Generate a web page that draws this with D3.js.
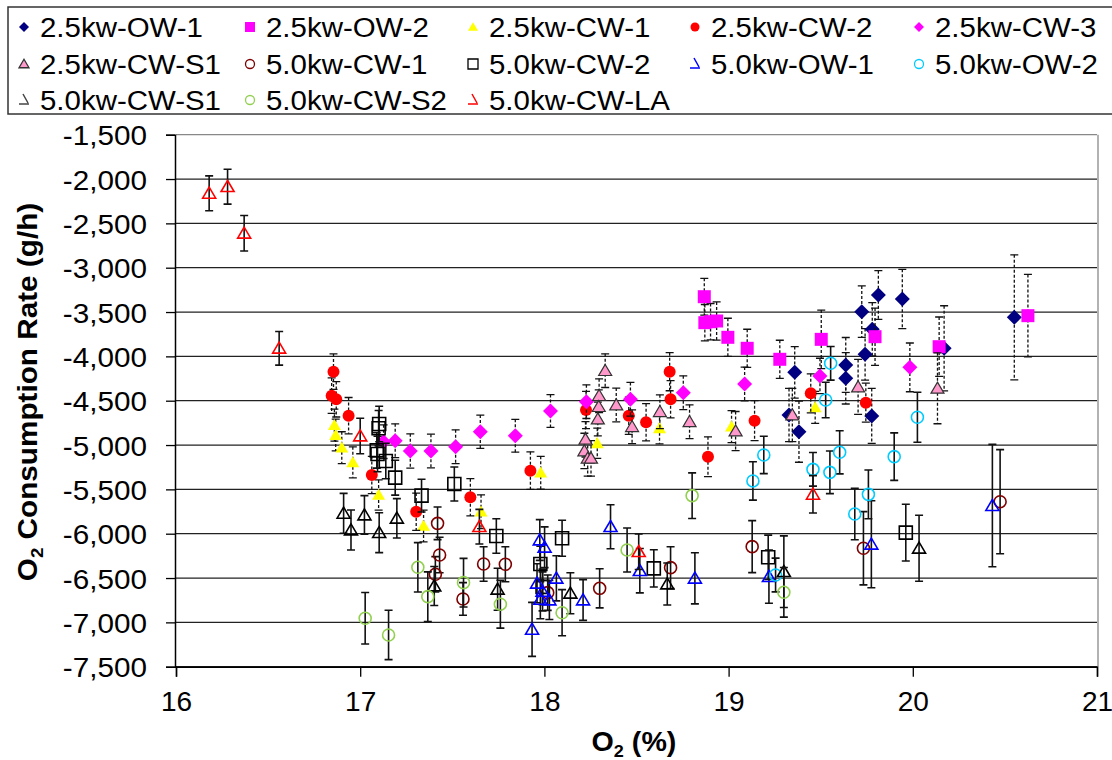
<!DOCTYPE html>
<html>
<head>
<meta charset="utf-8">
<script src="https://cdn.jsdelivr.net/npm/d3@7"></script>
<style>
  body { margin: 0; background: #fff; }
  text { font-family: Arial, "Liberation Sans", sans-serif; fill: #000; }
</style>
</head>
<body>
<div class="chart"></div>
<script>
// O2 consumption rate vs O2 % scatter with error bars

// 2.5kw-OW-1
var x25OW1 = [19.359, 19.636, 19.636, 19.723, 19.741, 19.78, 19.813, 19.943, 20.17, 20.551, 19.382, 19.777, 19.328];
var y25OW1 = [-4180, -4097, -4247, -3496, -3977, -3695, -3308, -3353, -3909, -3560, -4849, -4672, -4661];
var e25OW1 = [290, 310, 290, 290, 290, 300, 275, 335, 480, 705, 345, 310, 300];
// 2.5kw-OW-2
var x25OW2 = [18.868, 18.871, 18.902, 18.935, 18.996, 19.101, 19.278, 19.503, 19.795, 20.143, 20.625];
var y25OW2 = [-3327, -3620, -3609, -3601, -3785, -3909, -4033, -3808, -3778, -3891, -3541];
var e25OW2 = [207, 205, 205, 215, 215, 215, 215, 330, 323, 335, 465];
// 2.5kw-CW-1
var x25CW1 = [16.86, 16.867, 16.90, 16.96, 17.10, 17.344, 17.656, 17.98, 18.287, 18.625, 19.016, 19.47];
var y25CW1 = [-4776, -4887, -5030, -5195, -5563, -5913, -5752, -5312, -4980, -4811, -4793, -4575];
var e25CW1 = [180, 180, 180, 175, 170, 180, 190, 185, 170, 175, 180, 180];
// 2.5kw-CW-2
var x25CW2 = [16.855, 16.845, 16.87, 16.937, 17.063, 17.304, 17.598, 17.924, 18.226, 18.458, 18.552, 18.68, 18.685, 18.888, 19.141, 19.446, 19.745];
var y25CW2 = [-4173, -4443, -4484, -4669, -5338, -5752, -5589, -5289, -4605, -4669, -4744, -4173, -4484, -5132, -4725, -4417, -4522];
var e25CW2 = [200, 200, 200, 205, 210, 210, 210, 212, 210, 210, 210, 215, 210, 225, 225, 220, 220];
// 2.5kw-CW-3
var x25CW3 = [17.127, 17.19, 17.272, 17.384, 17.518, 17.652, 17.842, 18.033, 18.228, 18.467, 18.754, 19.087, 19.496, 19.984];
var y25CW3 = [-4962, -4951, -5067, -5067, -5019, -4850, -4895, -4616, -4511, -4484, -4410, -4311, -4221, -4124];
var e25CW3 = [190, 190, 193, 190, 190, 188, 185, 185, 190, 190, 190, 190, 200, 275];
// 2.5kw-CW-S1
var x25CWS1 = [18.33, 18.297, 18.295, 18.39, 18.29, 18.223, 18.217, 18.235, 18.253, 18.476, 18.627, 18.788, 19.038, 19.346, 19.703, 20.134];
var y25CWS1 = [-4161, -4443, -4567, -4548, -4707, -4935, -5067, -5150, -5150, -4793, -4624, -4737, -4842, -4661, -4345, -4360];
var e25CWS1 = [190, 190, 190, 190, 190, 200, 200, 200, 200, 190, 190, 190, 220, 300, 310, 400];
// 5.0kw-CW-1
var x50CW1 = [17.42, 17.431, 17.408, 17.558, 17.67, 17.788, 18.018, 18.30, 18.685, 19.128, 19.732, 20.474];
var y50CW1 = [-5883, -6240, -6458, -6736, -6342, -6345, -6665, -6616, -6383, -6146, -6164, -5639];
var e50CW1 = [184, 200, 200, 184, 195, 197, 200, 220, 236, 293, 413, 587];
// 5.0kw-CW-2
var x50CW2 = [17.103, 17.10, 17.094, 17.09, 17.139, 17.19, 17.333, 17.511, 17.739, 17.978, 17.99, 18.096, 18.594, 19.215, 19.962];
var y50CW2 = [-4763, -4810, -5101, -5060, -5180, -5368, -5571, -5439, -6026, -6342, -6600, -6052, -6391, -6266, -5988];
var e50CW2 = [200, 200, 200, 200, 200, 197, 185, 192, 195, 200, 200, 203, 210, 250, 320];
// 5.0kw-OW-1
var x50OW1 = [17.933, 17.96, 17.978, 18.027, 17.975, 18.001, 18.065, 18.21, 18.359, 18.518, 18.817, 19.219, 19.775, 20.432, 17.99];
var y50OW1 = [-7079, -6559, -6740, -6748, -6071, -6153, -6503, -6748, -5921, -6417, -6503, -6484, -6119, -5683, -6650];
var e50OW1 = [305, 220, 220, 220, 230, 230, 255, 230, 248, 250, 288, 300, 490, 690, 220];
// 5.0kw-OW-2
var x50OW2 = [19.132, 19.191, 19.255, 19.458, 19.527, 19.55, 19.554, 19.603, 19.685, 19.759, 19.899, 20.025];
var y50OW2 = [-5405, -5112, -6466, -5274, -4492, -5308, -4078, -5082, -5778, -5556, -5131, -4687];
var e50OW2 = [216, 211, 190, 190, 200, 240, 190, 243, 291, 275, 268, 282];
// 5.0kw-CW-S1
var x50CWS1 = [16.91, 16.95, 17.023, 17.103, 17.199, 17.402, 17.746, 18.141, 18.667, 19.30, 20.034];
var y50CWS1 = [-5770, -5958, -5789, -5988, -5826, -6590, -6627, -6672, -6567, -6428, -6164];
var e50CWS1 = [225, 225, 218, 225, 222, 220, 237, 231, 237, 404, 372];
// 5.0kw-CW-S2
var x50CWS2 = [17.027, 17.154, 17.313, 17.367, 17.561, 17.761, 18.096, 18.449, 18.802, 19.30];
var y50CWS2 = [-6954, -7142, -6379, -6710, -6552, -6795, -6891, -6184, -5571, -6661];
var e50CWS2 = [290, 278, 278, 280, 274, 270, 260, 248, 257, 280];
// 5.0kw-CW-LA
var x50CWLA = [16.18, 16.28, 16.37, 16.56, 17.0, 17.647, 18.512, 19.458];
var y50CWLA = [-2161, -2086, -2612, -3909, -4898, -5921, -6203, -5556];
var e50CWLA = [197, 197, 200, 190, 200, 195, 200, 211];

var xTicks = [16, 17, 18, 19, 20, 21];
var yTicks = [-1500, -2000, -2500, -3000, -3500, -4000, -4500, -5000, -5500, -6000, -6500, -7000, -7500];

// series table: name, data, marker style
var series = [
  {name: "2.5kw-OW-1", x: x25OW1, y: y25OW1, e: e25OW1, shape: "diamond", fill: "#000080", stroke: "none", dash: true},
  {name: "2.5kw-OW-2", x: x25OW2, y: y25OW2, e: e25OW2, shape: "square", fill: "#ff00ff", stroke: "none", dash: true},
  {name: "2.5kw-CW-1", x: x25CW1, y: y25CW1, e: e25CW1, shape: "triangle", fill: "#ffff00", stroke: "none", dash: true},
  {name: "2.5kw-CW-2", x: x25CW2, y: y25CW2, e: e25CW2, shape: "circle", fill: "#ff0000", stroke: "none", dash: true},
  {name: "2.5kw-CW-3", x: x25CW3, y: y25CW3, e: e25CW3, shape: "diamond", fill: "#ff00ff", stroke: "none", dash: true},
  {name: "2.5kw-CW-S1", x: x25CWS1, y: y25CWS1, e: e25CWS1, shape: "triangle", fill: "#ff99cc", stroke: "#333", dash: true},
  {name: "5.0kw-CW-1", x: x50CW1, y: y50CW1, e: e50CW1, shape: "circle", fill: "none", stroke: "#800000", dash: false},
  {name: "5.0kw-CW-2", x: x50CW2, y: y50CW2, e: e50CW2, shape: "square", fill: "none", stroke: "#000", dash: false},
  {name: "5.0kw-OW-1", x: x50OW1, y: y50OW1, e: e50OW1, shape: "triangle", fill: "none", stroke: "#0000ff", dash: false},
  {name: "5.0kw-OW-2", x: x50OW2, y: y50OW2, e: e50OW2, shape: "circle", fill: "none", stroke: "#00ccff", dash: false},
  {name: "5.0kw-CW-S1", x: x50CWS1, y: y50CWS1, e: e50CWS1, shape: "triangle", fill: "none", stroke: "#000", dash: false},
  {name: "5.0kw-CW-S2", x: x50CWS2, y: y50CWS2, e: e50CWS2, shape: "circle", fill: "none", stroke: "#92d050", dash: false},
  {name: "5.0kw-CW-LA", x: x50CWLA, y: y50CWLA, e: e50CWLA, shape: "triangle", fill: "none", stroke: "#ff0000", dash: false}
];

var svgWidth = 1112;
var svgHeight = 760;
var plot = {left: 176, right: 1097, top: 134.7, bottom: 666.7};

var svg = d3.select(".chart")
  .append("svg")
  .attr("width", svgWidth)
  .attr("height", svgHeight);

var xScale = d3.scaleLinear().domain([16, 21]).range([plot.left, plot.right]);
var yScale = d3.scaleLinear().domain([-7500, -1500]).range([plot.bottom, plot.top]);

// widen text a bit, the original is rendered slightly stretched
function stretch(sel, k) {
  sel.each(function() {
    var len = this.getComputedTextLength();
    d3.select(this).attr("textLength", len * k).attr("lengthAdjust", "spacingAndGlyphs");
  });
}

// marker path generator, size s = half-width
function markerPath(shape, s) {
  if (shape === "diamond") return `M0,${-s}L${s},0L0,${s}L${-s},0Z`;
  if (shape === "square") return `M${-s},${-s}H${s}V${s}H${-s}Z`;
  if (shape === "triangle") return `M0,${-s * 0.95}L${s},${s * 0.75}L${-s},${s * 0.75}Z`;
  return d3.arc()({innerRadius: 0, outerRadius: s, startAngle: 0, endAngle: 2 * Math.PI});
}
var markerSize = {diamond: 7.5, square: 6.5, triangle: 6.5, circle: 6};

// gridlines
svg.append("g").selectAll("line")
  .data(yTicks)
  .enter().append("line")
  .attr("x1", plot.left).attr("x2", plot.right)
  .attr("y1", d => yScale(d)).attr("y2", d => yScale(d))
  .attr("stroke", d => d === -1500 ? "#888" : "#222")
  .attr("stroke-width", 1.3);

// right border
svg.append("line")
  .attr("x1", plot.right + 1).attr("x2", plot.right + 1)
  .attr("y1", plot.top).attr("y2", plot.bottom)
  .attr("stroke", "#999").attr("stroke-width", 1.5);

// axes
var fmt = d3.format(",");
var leftAxis = d3.axisLeft(yScale).tickValues(yTicks).tickSize(9)
  .tickFormat(d => fmt(d).replace("\u2212", "-"));
var bottomAxis = d3.axisBottom(xScale).tickValues(xTicks).tickSize(10).tickFormat(d3.format("d"));

var yAxisG = svg.append("g")
  .attr("transform", `translate(${plot.left - 1}, 0)`)
  .call(leftAxis);
var xAxisG = svg.append("g")
  .attr("transform", `translate(0, ${plot.bottom})`)
  .call(bottomAxis);

[yAxisG, xAxisG].forEach(function(g) {
  g.select(".domain").attr("stroke", "#000").attr("stroke-width", 1.5);
  g.selectAll(".tick line").attr("stroke", "#000").attr("stroke-width", 1.3);
  g.selectAll("text")
    .attr("font-size", "28px")
    .attr("font-family", "Arial, 'Liberation Sans', sans-serif")
    .attr("fill", "#000");
});
yAxisG.selectAll("text").attr("x", -28).attr("dy", "0.36em");
xAxisG.selectAll("text").attr("y", 24).attr("dy", "0.72em");
stretch(yAxisG.selectAll("text"), 1.06);

// series: error bars then markers
series.forEach(function(s) {
  var g = svg.append("g");
  var pts = s.x.map((v, i) => ({x: v, y: s.y[i], e: s.e[i]}));
  var eb = g.append("g")
    .attr("stroke", "#111")
    .attr("stroke-width", s.dash ? 1.3 : 1.6)
    .attr("fill", "none");
  eb.selectAll("path")
    .data(pts)
    .enter().append("path")
    .attr("stroke-dasharray", s.dash ? "3,2" : null)
    .attr("d", function(d) {
      var cx = xScale(d.x), y1 = yScale(d.y + d.e), y2 = yScale(d.y - d.e);
      return `M${cx},${y1}V${y2}`;
    });
  eb.selectAll("path.cap")
    .data(pts)
    .enter().append("path")
    .attr("class", "cap")
    .attr("d", function(d) {
      var cx = xScale(d.x), y1 = yScale(d.y + d.e), y2 = yScale(d.y - d.e);
      return `M${cx - 4},${y1}H${cx + 4}M${cx - 4},${y2}H${cx + 4}`;
    });
  g.selectAll("path.mk")
    .data(pts)
    .enter().append("path")
    .attr("class", "mk")
    .attr("transform", d => `translate(${xScale(d.x)},${yScale(d.y)})`)
    .attr("d", markerPath(s.shape, markerSize[s.shape]))
    .attr("fill", s.fill)
    .attr("stroke", s.stroke)
    .attr("stroke-width", s.fill === "none" ? 1.6 : 1.2);
});

// axis titles
var yTitle = svg.append("text")
  .attr("transform", `translate(37, 392) rotate(-90)`)
  .attr("text-anchor", "middle")
  .attr("font-size", "27px")
  .attr("font-weight", "bold");
yTitle.append("tspan").text("O");
yTitle.append("tspan").attr("font-size", "17px").attr("dy", "6").text("2");
yTitle.append("tspan").attr("dy", "-6").text(" Consumption Rate (g/h)");
stretch(yTitle, 1.1);

var xTitle = svg.append("text")
  .attr("x", 634)
  .attr("y", 751)
  .attr("text-anchor", "middle")
  .attr("font-size", "27px")
  .attr("font-weight", "bold");
xTitle.append("tspan").text("O");
xTitle.append("tspan").attr("font-size", "17px").attr("dy", "6").text("2");
xTitle.append("tspan").attr("dy", "-6").text(" (%)");
stretch(xTitle, 1.06);

// legend
var legend = svg.append("g");
legend.append("rect")
  .attr("x", 8).attr("y", 7)
  .attr("width", 1115).attr("height", 107)
  .attr("fill", "#fff")
  .attr("stroke", "#333")
  .attr("stroke-width", 1.5);

var legendCols = [24, 250, 473, 695, 919];
var legendRows = [27, 64, 100];

series.forEach(function(s, i) {
  var lx = legendCols[i % 5], ly = legendRows[Math.floor(i / 5)];
  var item = legend.append("g").attr("transform", `translate(${lx},${ly})`);
  if (s.shape === "triangle" && s.fill === "none") {
    // Excel renders these legend triangles clipped
    item.append("path")
      .attr("d", "M-1,-6L4,3M-5,4H5")
      .attr("fill", "none")
      .attr("stroke", s.stroke === "#000" ? "#444" : s.stroke)
      .attr("stroke-width", 1.5);
  } else {
    var sz = {diamond: 5, square: 5, triangle: 5, circle: 4.5}[s.shape];
    item.append("path")
      .attr("d", markerPath(s.shape, sz))
      .attr("fill", s.fill)
      .attr("stroke", s.stroke === "none" ? null : s.stroke)
      .attr("stroke-width", 1.3);
  }
  var t = item.append("text")
    .attr("x", 16)
    .attr("dy", "0.36em")
    .attr("font-size", "27px")
    .text(s.name);
  stretch(t, 1.09);
});
</script>
</body>
</html>
